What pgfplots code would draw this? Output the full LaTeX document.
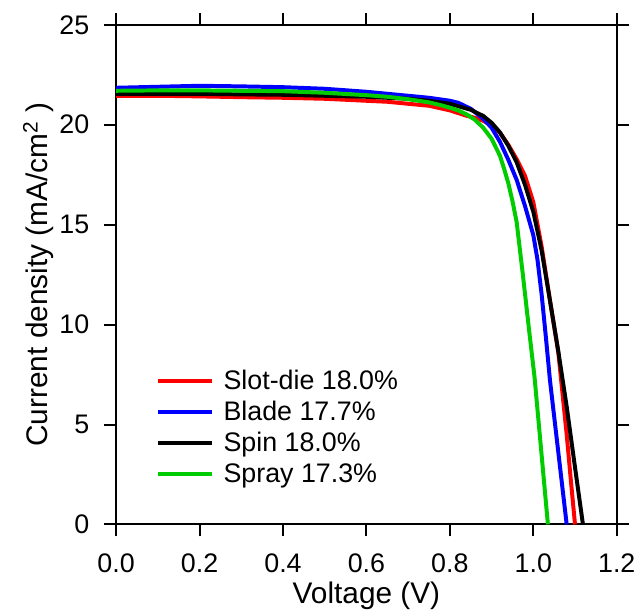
\documentclass[border=0pt]{standalone}
\usepackage{fontspec}
\setmainfont{Liberation Sans}
\usepackage{pgfplots}
\pgfplotsset{compat=1.18}

\definecolor{cred}{rgb}{1,0,0}
\definecolor{cblue}{rgb}{0,0,1}
\definecolor{cgreen}{rgb}{0,0.8,0}

\begin{document}
\begin{tikzpicture}
\begin{axis}[
    scale only axis,
    width=252pt, height=251.5pt,
    xmin=0, xmax=1.2, ymin=0, ymax=25,
    xtick={0,0.2,...,1.2},
    ytick={0,5,10,15,20,25},
    minor tick num=0,
    tick align=outside,
    major tick length=6pt,
    axis line style={line width=1pt},
    every tick/.style={line width=1pt, black},
    /pgf/number format/assume math mode=true,
    ticklabel style={font=\fontsize{13.5}{15}\selectfont},
    xticklabel style={/pgf/number format/.cd, fixed, fixed zerofill, precision=1, /tikz/.cd, yshift=-5pt},
    yticklabel style={xshift=-4pt},
    xlabel={Voltage (V)},
    ylabel={Current density (mA/cm\textsuperscript{2} )},
    label style={font=\fontsize{15}{17}\selectfont},
    xlabel style={at={(axis description cs:0.5,-0.142)}, anchor=center},
    ylabel style={at={(axis description cs:-0.155,0.5)}, anchor=center},
    legend style={at={(axis description cs:0.067,0.326)}, anchor=north west,
        draw=none, fill=none, font=\fontsize{13.5}{15.5}\selectfont,
        row sep=0.4pt,
        /tikz/every odd column/.append style={column sep=3pt}},
    legend cell align=left,
    legend image code/.code={\draw[#1, line width=2pt] (0pt,0pt) -- (27pt,0pt);},
    every axis plot/.append style={line width=2pt},
]
\addplot[cred] coordinates {
(0.00,21.45) (0.10,21.45) (0.20,21.42) (0.30,21.38) (0.40,21.35) (0.50,21.30)
(0.60,21.20) (0.65,21.15) (0.70,21.05) (0.75,20.95) (0.80,20.72) (0.84,20.45)
(0.86,20.35) (0.88,20.20) (0.90,19.95) (0.92,19.60) (0.94,19.00) (0.96,18.28)
(0.98,17.45) (1.00,16.13) (1.02,13.90) (1.04,11.20) (1.06,8.60) (1.08,4.50)
(1.09,2.20) (1.10,0.00)
};
\addlegendentry{Slot-die 18.0\%}
\addplot[cblue] coordinates {
(0.00,21.85) (0.10,21.90) (0.20,21.95) (0.30,21.92) (0.40,21.88) (0.50,21.80)
(0.60,21.65) (0.70,21.45) (0.75,21.35) (0.80,21.20) (0.82,21.10) (0.85,20.80)
(0.88,20.30) (0.90,19.85) (0.92,19.15) (0.94,18.25) (0.96,17.25) (0.98,15.94)
(1.00,14.48) (1.01,13.25) (1.02,11.50) (1.03,9.40) (1.04,7.20) (1.06,3.60)
(1.08,0.00)
};
\addlegendentry{Blade 17.7\%}
\addplot[black] coordinates {
(0.00,21.55) (0.10,21.55) (0.20,21.55) (0.30,21.52) (0.40,21.50) (0.50,21.45)
(0.60,21.40) (0.70,21.30) (0.75,21.20) (0.80,21.05) (0.85,20.75) (0.88,20.44)
(0.90,20.10) (0.92,19.62) (0.94,18.95) (0.96,18.13) (0.98,17.00) (1.00,15.65)
(1.02,13.70) (1.04,11.20) (1.06,8.65) (1.08,5.90) (1.10,2.85) (1.119,0.00)
};
\addlegendentry{Spin 18.0\%}
\addplot[cgreen] coordinates {
(0.00,21.70) (0.10,21.72) (0.20,21.72) (0.30,21.70) (0.40,21.68) (0.50,21.60)
(0.60,21.48) (0.65,21.40) (0.70,21.28) (0.75,21.12) (0.78,20.97) (0.80,20.85)
(0.82,20.72) (0.84,20.52) (0.86,20.25) (0.88,19.85) (0.90,19.30) (0.92,18.45)
(0.93,17.80) (0.94,17.08) (0.95,16.18) (0.96,15.14) (0.975,12.49) (0.99,9.70)
(1.003,7.36) (1.02,3.45) (1.035,0.00)
};
\addlegendentry{Spray 17.3\%}
\coordinate (bbsw) at (rel axis cs:-0.232,-0.173);
\coordinate (bbne) at (rel axis cs:1.0417,1.0497);
\end{axis}
\path (bbsw) rectangle (bbne);
\end{tikzpicture}
\end{document}
